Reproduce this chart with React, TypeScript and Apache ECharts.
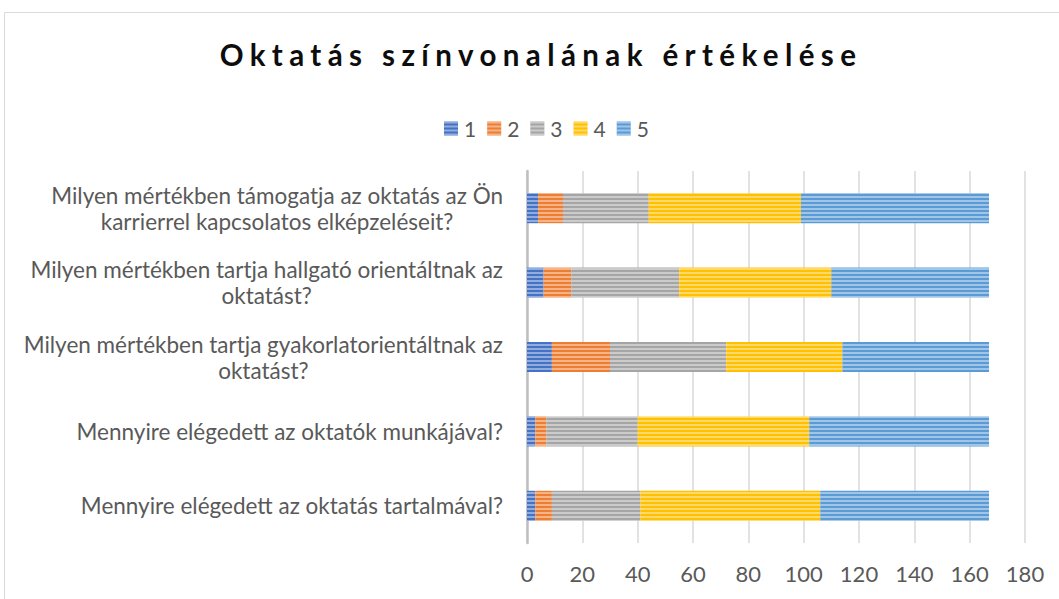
import React, { useEffect, useRef } from 'react';
import * as echarts from 'echarts';

const TITLE = 'Oktatás színvonalának értékelése';

const categories = [
  'Milyen mértékben támogatja az oktatás az Ön karrierrel kapcsolatos elképzeléseit?',
  'Milyen mértékben tartja hallgató orientáltnak az oktatást?',
  'Milyen mértékben tartja gyakorlatorientáltnak az oktatást?',
  'Mennyire elégedett az oktatók munkájával?',
  'Mennyire elégedett az oktatás tartalmával?',
];

const seriesNames = ['1', '2', '3', '4', '5'];
const values1 = [4, 6, 9, 3, 3];
const values2 = [9, 10, 21, 4, 6];
const values3 = [31, 39, 42, 33, 32];
const values4 = [55, 55, 42, 62, 65];
const values5 = [68, 57, 53, 65, 61];
const seriesValues = [values1, values2, values3, values4, values5];
const colors = ['#4472C4', '#ED7D31', '#A5A5A5', '#FFC000', '#5B9BD5'];

const X_MIN = 0;
const X_MAX = 180;
const X_INTERVAL = 20;

function wrap(s: string, max = 48): string {
  const words = s.split(' ');
  const lines: string[] = [];
  let cur = '';
  for (const w of words) {
    const next = cur ? cur + ' ' + w : w;
    if (next.length > max && cur) {
      lines.push(cur);
      cur = w;
    } else {
      cur = next;
    }
  }
  if (cur) lines.push(cur);
  return lines.map((l) => `{c|${l}}`).join('\n');
}

const FONT = 'Lato, "Noto Sans", sans-serif';

export default function App() {
  const ref = useRef<HTMLDivElement>(null);
  useEffect(() => {
    if (!ref.current) return;
    const chart = echarts.init(ref.current, null, { renderer: 'svg' });
    const decal = {
      symbol: 'rect',
      symbolSize: 1,
      dashArrayX: [20, 0],
      dashArrayY: [1.6, 2],
      rotation: 0,
      color: 'rgba(255,255,255,0.42)',
    };
    chart.setOption({
      animation: false,
      backgroundColor: '#ffffff',
      textStyle: { fontFamily: FONT },
      graphic: [
        {
          type: 'rect',
          z: -10,
          silent: true,
          shape: { x: 4.5, y: 12.5, width: 1200, height: 800 },
          style: { fill: 'none', stroke: '#d9d9d9', lineWidth: 1 },
        },
        {
          type: 'text',
          x: 541,
          y: 54,
          style: {
            text: TITLE,
            textAlign: 'center',
            textVerticalAlign: 'middle',
            fontFamily: FONT,
            fontWeight: 'bold',
            fontSize: 29.5,
            fill: '#0d0d0d',
          },
        },
      ],
      legend: {
        data: seriesNames,
        left: 439,
        top: 113,
        itemWidth: 14,
        itemHeight: 14,
        itemGap: 11,
        icon: 'rect',
        textStyle: { color: '#595959', fontSize: 21, fontFamily: FONT, padding: [0, 0, 0, 1] },
      },
      grid: { left: 527, right: 34, top: 171, bottom: 56, containLabel: false },
      xAxis: {
        type: 'value',
        min: X_MIN,
        max: X_MAX,
        interval: X_INTERVAL,
        axisLine: { show: false },
        axisTick: { show: false },
        splitLine: { show: true, lineStyle: { color: '#d9d9d9', width: 1.5 } },
        axisLabel: { color: '#595959', fontSize: 22, margin: 19, fontFamily: FONT },
      },
      yAxis: {
        type: 'category',
        inverse: true,
        data: categories,
        axisLine: { show: true, lineStyle: { color: '#bfbfbf', width: 2.5 } },
        axisTick: { show: false },
        splitLine: { show: false },
        axisLabel: {
          color: '#595959',
          fontSize: 22.5,
          margin: 24,
          lineHeight: 26,
          fontFamily: FONT,
          formatter: (v: string) => wrap(v),
          rich: {
            c: { align: 'center', color: '#595959', fontSize: 22.5, lineHeight: 26, fontFamily: FONT },
          },
        },
      },
      series: seriesNames.map((name, i) => ({
        name,
        type: 'bar',
        stack: 'total',
        barWidth: 30,
        data: seriesValues[i],
        itemStyle: { color: colors[i], decal },
        emphasis: { disabled: true },
      })),
    });
    const apply = () => {
      const texts = ref.current ? ref.current.querySelectorAll('text') : [];
      texts.forEach((t: any) => {
        if (t.textContent === TITLE) t.style.letterSpacing = '6.4px';
      });
    };
    apply();
    chart.on('finished', apply);
    return () => {
      chart.dispose();
    };
  }, []);
  return (
    <div
      ref={ref}
      style={{ position: 'fixed', left: 0, top: 0, width: 1059, height: 599, background: '#fff' }}
    />
  );
}
